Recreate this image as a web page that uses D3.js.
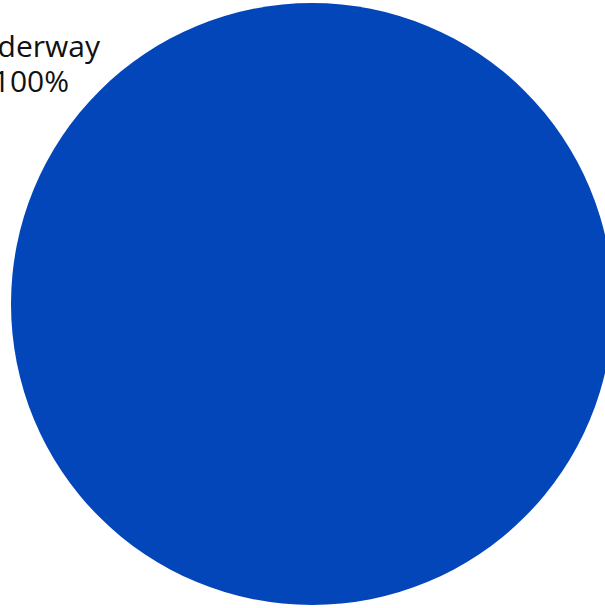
<!DOCTYPE html>
<html>
<head>
<meta charset="utf-8">
<script src="https://cdn.jsdelivr.net/npm/d3@7"></script>
<style>
  html, body { margin: 0; padding: 0; background: #fff; overflow: hidden; }
  text { font-family: "Open Sans", sans-serif; fill: #111; }
</style>
</head>
<body>
<div id="chart"></div>
<script>
var categories = ["Underway"];
var values = [100];
var colors = ["#0346b9"];

var width = 605, height = 608;
var cx = 312, cy = 304, radius = 301;

var svg = d3.select("#chart").append("svg")
        .attr("width", width)
        .attr("height", height);

var g = svg.append("g")
        .attr("transform", "translate(" + cx + "," + cy + ")");

var pie = d3.pie().sort(null);
var arc = d3.arc().innerRadius(0).outerRadius(radius);

var data = pie(values);

g.selectAll("path.slice")
        .data(data)
        .enter().append("path")
        .attr("class", "slice")
        .attr("d", arc)
        .attr("fill", function(d, i) { return colors[i]; });

var total = d3.sum(values);

// label sits outside the pie, top-left, partly cut off by the frame
var label = svg.append("text")
        .attr("y", 57)
        .style("font-size", "30px")
        .style("text-anchor", "end");

label.append("tspan")
        .attr("x", 100)
        .text(categories[0]);

label.append("tspan")
        .attr("x", 69)
        .attr("dy", 35)
        .text(d3.format(".0%")(values[0] / total));
</script>
</body>
</html>
